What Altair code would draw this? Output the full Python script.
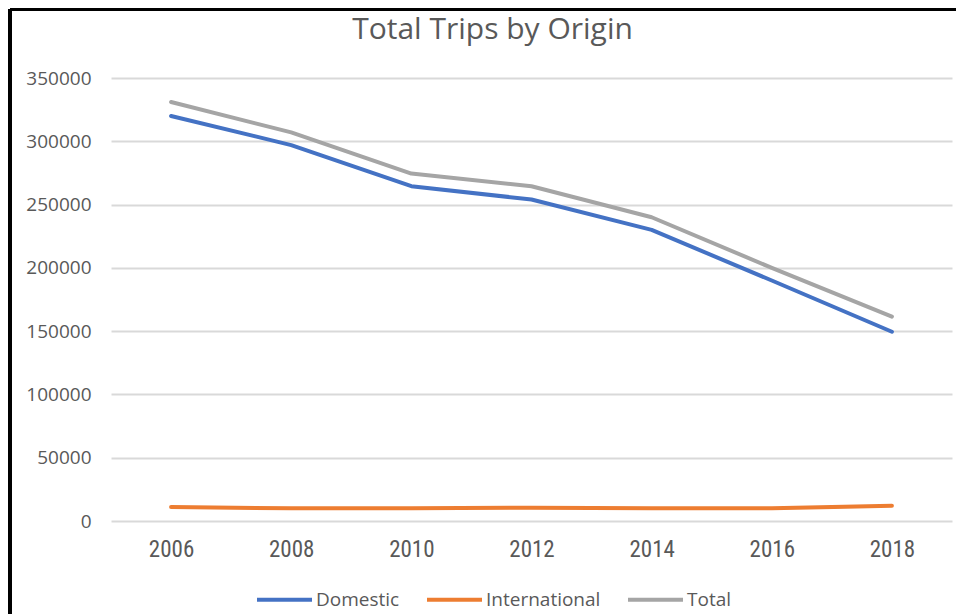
import altair as alt
import pandas as pd

years = ["2006", "2008", "2010", "2012", "2014", "2016", "2018"]
domestic = [320000, 297000, 264500, 254000, 230000, 190000, 149500]
international = [11000, 10000, 10000, 10500, 10000, 10000, 12000]
total = [331000, 307000, 274500, 264500, 240000, 200000, 161500]
series = ["Domestic", "International", "Total"]
colors = ["#4472C4", "#ED7D31", "#A5A5A5"]

rows = []
for name, vals in zip(series, [domestic, international, total]):
    for y, v in zip(years, vals):
        rows.append({"Year": y, "Trips": v, "Series": name})
df = pd.DataFrame(rows)

TXT = "#595959"
NARROW = "Liberation Sans Narrow, Roboto Condensed, DejaVu Sans Condensed, sans-serif"

lines = alt.Chart(df).mark_line(strokeWidth=4, strokeCap="round", strokeJoin="round").encode(
    x=alt.X("Year:N", sort=years,
            scale=alt.Scale(type="point", padding=0.5),
            axis=alt.Axis(title=None, labelAngle=0, ticks=False, domain=False, grid=False,
                          labelFont=NARROW, labelFontSize=23, labelColor=TXT, labelPadding=17)),
    y=alt.Y("Trips:Q", scale=alt.Scale(domain=[0, 350000], nice=False),
            axis=alt.Axis(title=None, values=list(range(0, 350001, 50000)), format="d",
                          ticks=False, domain=False, gridColor="#D9D9D9", gridWidth=2,
                          labelFont="Open Sans", labelFontSize=19, labelColor=TXT, labelPadding=20)),
    color=alt.Color("Series:N", sort=series,
                    scale=alt.Scale(domain=series, range=colors),
                    legend=alt.Legend(title=None, orient="none", direction="horizontal",
                                      legendX=144, legendY=492,
                                      symbolType="stroke", symbolSize=3025, symbolStrokeWidth=4,
                                      labelFont="Open Sans", labelFontSize=19, labelColor=TXT,
                                      labelOffset=2, columnPadding=19, padding=0)),
    order=alt.Order("Series:N"),
)

top_border = alt.Chart(df).mark_rule(color="black", strokeWidth=3).encode(
    x=alt.value(-101), x2=alt.value(845), y=alt.value(-68.5)
)
left_border = alt.Chart(df).mark_rule(color="black", strokeWidth=3).encode(
    x=alt.value(-101), x2=alt.value(-101), y=alt.value(-68.5), y2=alt.value(545)
)

chart = alt.layer(lines, top_border, left_border).properties(
    width=841, height=443,
    title=alt.TitleParams("Total Trips by Origin", font="Open Sans", fontSize=30,
                          fontWeight="normal", color=TXT, anchor="middle",
                          dx=-39, dy=37, offset=0),
    padding={"left": 0, "top": 0, "right": 0, "bottom": 0},
).configure(background="white").configure_view(stroke=None)

chart.save("out.html", embed_options={"renderer": "svg", "actions": False})
